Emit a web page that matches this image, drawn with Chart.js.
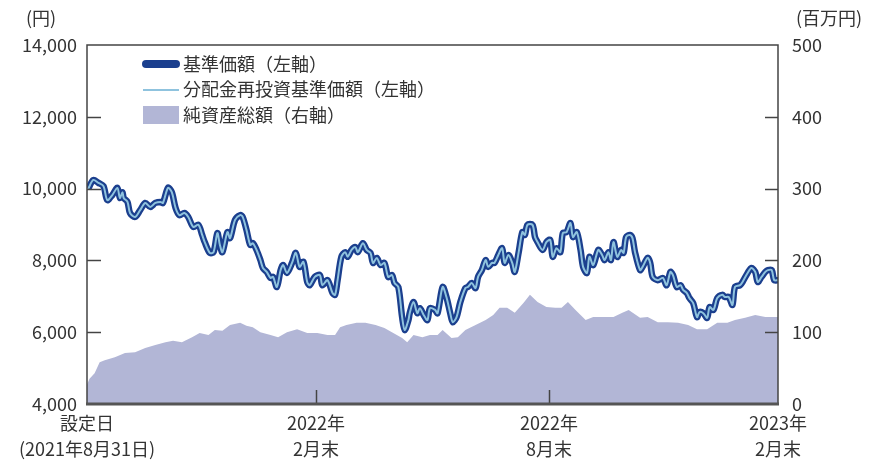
<!DOCTYPE html>
<html>
<head>
<meta charset="utf-8">
<script src="https://cdn.jsdelivr.net/npm/chart.js@4.4.0/dist/chart.umd.min.js"></script>
<style>
body { margin: 0; background: #fff; }
#wrap { width: 870px; height: 461px; position: relative; }
</style>
</head>
<body>
<div id="wrap"><canvas id="chart"></canvas></div>
<script>
// 基準価額 (days since 2021-08-31, yen)
const navDays = [1,5,9,13,16,20,24,26,28,29,32,34,38,42,46,50,54,58,60,64,67,70,73,77,80,84,88,91,93,97,100,103,105,107,111,113,117,121,123,126,129,131,134,137,139,142,145,147,150,153,155,158,162,165,168,171,174,176,180,184,186,190,194,196,198,201,204,206,209,212,214,218,221,224,226,229,232,235,238,241,243,246,249,251,254,255,258,261,263,266,269,271,275,277,281,284,287,289,292,295,299,301,304,307,309,312,315,317,320,322,325,328,330,333,336,338,341,344,346,348,352,354,356,360,363,366,368,371,374,376,379,382,384,387,390,392,395,397,400,404,407,409,412,414,416,419,422,424,426,429,431,433,437,439,443,445,447,451,455,458,461,463,466,469,471,474,476,479,482,484,487,490,492,495,498,502,504,507,510,512,516,518,522,525,528,530,533,536,538,541,543,546];
const navValues = [10000,10240,10160,10070,9680,9820,10020,9740,9900,9740,9630,9320,9210,9400,9600,9490,9600,9630,9600,10020,9900,9460,9260,9320,9210,8930,8990,8710,8510,8210,8230,8760,8430,8230,8790,8620,9130,9260,9210,8850,8430,8480,8290,8010,7790,7680,7510,7540,7260,7730,7870,7650,7930,8210,7820,7960,7400,7310,7540,7590,7310,7450,7090,7040,7450,8100,8230,8100,8290,8370,8230,8480,8290,8210,7930,8070,7870,7930,7540,7590,7370,7260,6420,6060,6340,6530,6840,6530,6670,6480,6340,6670,6620,6530,7260,6980,6530,6280,6420,6840,7230,7260,7370,7230,7540,7730,8010,7820,7930,7930,8150,8340,7930,8150,7930,7680,8210,8790,8710,8990,8990,8650,8510,8290,8510,8570,8100,8340,8230,8760,8790,9040,8650,8790,8290,7820,7650,8100,7870,8290,8150,8010,8230,8010,8510,8100,8290,8210,8650,8710,8620,8230,7730,7820,8070,7930,7540,7450,7510,7310,7680,7590,7260,7310,7180,7090,6950,6810,6420,6560,6530,6400,6700,6620,6950,7040,6980,6980,6760,7260,7310,7400,7650,7790,7680,7400,7540,7680,7730,7730,7450,7450];
// 純資産総額 (days since 2021-08-31, 百万円)
const assetDays = [0,2,6,10,14,22,30,38,46,54,62,68,75,83,89,96,101,107,113,121,126,131,137,145,151,158,166,174,182,190,196,200,205,213,220,228,235,242,249,253,258,265,271,277,281,288,293,299,307,315,321,326,332,338,345,350,356,363,370,375,380,386,394,400,408,416,423,428,437,443,451,459,467,475,482,490,498,506,512,520,528,536,542,546];
const assetValues = [27,35,43,58,61,65,71,72,78,82,86,88,86,93,99,96,103,102,110,113,109,107,100,96,93,100,104,99,99,96,96,107,110,113,113,110,106,99,92,86,96,93,96,96,103,92,93,103,110,117,124,134,134,127,141,152,142,135,134,134,142,131,117,121,121,121,127,131,120,121,114,114,113,110,104,104,113,113,117,120,124,121,121,121];

const xTickDays = [0, 181, 365, 546];
const xTickLabels = [['設定日', '(2021年8月31日)'], ['2022年', '2月末'], ['2022年', '8月末'], ['2023年', '2月末']];
const leftTicks = [4000, 6000, 8000, 10000, 12000, 14000];
const rightTicks = [0, 100, 200, 300, 400, 500];
const legendLabels = ['基準価額（左軸）', '分配金再投資基準価額（左軸）', '純資産総額（右軸）'];

const FONT = '"Noto Sans CJK JP", "Noto Sans", sans-serif';
const TEXT = '#333333';
const DARK = '#1b3f8e';
const LIGHT = '#8fc3de';
const AREA = '#b2b6d6';

const navPoints = navDays.map((d, i) => ({ x: d, y: navValues[i] }));
const assetPoints = assetDays.map((d, i) => ({ x: d, y: assetValues[i] }));

// frame, inward ticks, axis units and legend
const decorPlugin = {
    id: 'decor',
    afterDraw(chart) {
        const c = chart.ctx;
        const a = chart.chartArea;
        const yL = chart.scales.y;
        const yR = chart.scales.y2;
        const xs = chart.scales.x;
        c.save();
        c.strokeStyle = '#444';
        c.lineWidth = 1.5;
        c.beginPath();
        c.moveTo(a.left, a.bottom);
        c.lineTo(a.left, a.top);
        c.lineTo(a.right, a.top);
        c.lineTo(a.right, a.bottom);
        c.stroke();
        // ticks
        leftTicks.slice(1, -1).forEach(v => {
            const y = Math.round(yL.getPixelForValue(v)) + 0.5;
            c.beginPath(); c.moveTo(a.left, y); c.lineTo(a.left + 14, y); c.stroke();
        });
        rightTicks.slice(1, -1).forEach(v => {
            const y = Math.round(yR.getPixelForValue(v)) + 0.5;
            c.beginPath(); c.moveTo(a.right, y); c.lineTo(a.right - 13, y); c.stroke();
        });
        xTickDays.slice(1, -1).forEach(d => {
            const x = Math.round(xs.getPixelForValue(d)) + 0.5;
            c.beginPath(); c.moveTo(x, a.bottom); c.lineTo(x, a.bottom - 14); c.stroke();
        });
        c.strokeStyle = '#555';
        c.lineWidth = 3;
        c.beginPath(); c.moveTo(a.left - 1, a.bottom); c.lineTo(a.right + 1, a.bottom); c.stroke();

        // units
        c.fillStyle = TEXT;
        c.font = '18px ' + FONT;
        c.textAlign = 'center';
        c.textBaseline = 'middle';
        c.fillText('(円)', 41, 18);
        c.fillText('(百万円)', 829, 18);

        // legend
        const lx = a.left + 56;
        c.lineCap = 'round';
        c.strokeStyle = DARK;
        c.lineWidth = 8;
        c.beginPath(); c.moveTo(lx + 3, 64); c.lineTo(lx + 33, 64); c.stroke();
        c.lineCap = 'butt';
        c.strokeStyle = LIGHT;
        c.lineWidth = 2;
        c.beginPath(); c.moveTo(lx, 90); c.lineTo(lx + 36, 90); c.stroke();
        c.fillStyle = AREA;
        c.fillRect(lx, 106, 36, 18);
        c.fillStyle = TEXT;
        c.textAlign = 'left';
        legendLabels.forEach((t, i) => c.fillText(t, lx + 40, 64 + i * 25.5));
        c.restore();
    }
};

const ctx = document.getElementById('chart').getContext('2d');
const chart = new Chart(ctx, {
    type: 'line',
    data: {
        datasets: [
            {
                label: legendLabels[1],
                data: navPoints,
                yAxisID: 'y',
                borderColor: LIGHT,
                borderWidth: 2,
                pointRadius: 0,
                tension: 0.3,
                order: 0
            },
            {
                label: legendLabels[0],
                data: navPoints,
                yAxisID: 'y',
                borderColor: DARK,
                borderWidth: 6.5,
                pointRadius: 0,
                tension: 0.3,
                borderJoinStyle: 'round',
                order: 1
            },
            {
                label: 'halo',
                data: navPoints,
                yAxisID: 'y',
                borderColor: '#ffffff',
                borderWidth: 10,
                pointRadius: 0,
                tension: 0.3,
                borderJoinStyle: 'round',
                order: 2
            },
            {
                label: legendLabels[2],
                data: assetPoints,
                yAxisID: 'y2',
                borderWidth: 0,
                borderColor: AREA,
                backgroundColor: AREA,
                fill: 'origin',
                pointRadius: 0,
                tension: 0,
                order: 3
            }
        ]
    },
    options: {
        responsive: true,
        maintainAspectRatio: false,
        animation: false,
        layout: { padding: { top: 45, left: 0, right: 0, bottom: 0 } },
        plugins: {
            legend: { display: false },
            tooltip: { enabled: false }
        },
        scales: {
            x: {
                type: 'linear',
                min: 0,
                max: 546,
                grid: { display: false, drawTicks: false },
                border: { display: false },
                afterBuildTicks: function(scale) {
                    scale.ticks = xTickDays.map(v => ({ value: v }));
                },
                afterFit: function(scale) { scale.height = 57; },
                ticks: {
                    autoSkip: false,
                    maxRotation: 0,
                    padding: 6,
                    color: TEXT,
                    font: { family: FONT, size: 18, lineHeight: 1.45 },
                    callback: function(value) {
                        const i = xTickDays.indexOf(value);
                        return i >= 0 ? xTickLabels[i] : '';
                    }
                }
            },
            y: {
                position: 'left',
                min: 4000,
                max: 14000,
                grid: { display: false, drawTicks: false },
                border: { display: false },
                afterBuildTicks: function(scale) {
                    scale.ticks = leftTicks.map(v => ({ value: v }));
                },
                afterFit: function(scale) { scale.width = 87; },
                ticks: {
                    padding: 10,
                    color: TEXT,
                    font: { family: FONT, size: 18 },
                    callback: function(value) {
                        return value.toLocaleString('en-US');
                    }
                }
            },
            y2: {
                position: 'right',
                min: 0,
                max: 500,
                grid: { display: false, drawTicks: false },
                border: { display: false },
                afterBuildTicks: function(scale) {
                    scale.ticks = rightTicks.map(v => ({ value: v }));
                },
                afterFit: function(scale) { scale.width = 92; },
                ticks: {
                    padding: 14,
                    color: TEXT,
                    font: { family: FONT, size: 18 }
                }
            }
        }
    },
    plugins: [decorPlugin]
});
</script>
</body>
</html>
